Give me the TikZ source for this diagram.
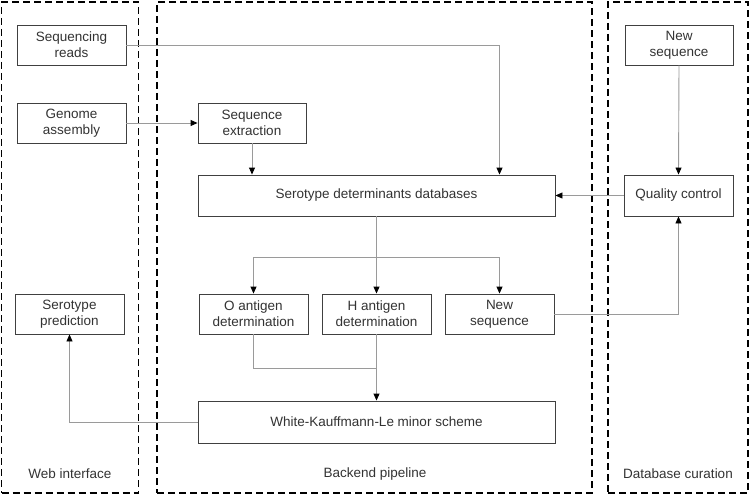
\documentclass[tikz,border=0pt]{standalone}
\usepackage{fontspec}
\setmainfont{Liberation Sans}
\usetikzlibrary{arrows.meta}
\definecolor{boxc}{HTML}{404040}
\definecolor{linec}{HTML}{9A9A9A}
\definecolor{txtc}{HTML}{333333}
\tikzset{
  box/.style={draw=boxc, line width=0.9pt, fill=white, inner sep=0pt, align=center,
    text=txtc, font=\fontsize{13.5}{16.3}\selectfont},
  conn/.style={draw=linec, line width=0.9pt, -{Triangle[length=7pt,width=6pt,color=black]}},
  plain/.style={draw=linec, line width=0.9pt},
  panel/.style={draw=black, line width=1.1pt, dash pattern=on 7pt off 4pt, inner sep=0pt},
  plabel/.style={text=txtc, font=\fontsize{13.5}{16.3}\selectfont}
}
\begin{document}
\begin{tikzpicture}[x=1pt,y=-1pt]
\useasboundingbox (0,0) rectangle (750,495);
% panels
\node[panel, minimum width=137pt, minimum height=491pt] (pweb) at (70,247.5) {};
\node[panel, minimum width=435pt, minimum height=491pt] (pback) at (374.5,247.5) {};
\node[panel, minimum width=140pt, minimum height=491pt] (pdb) at (678,247.5) {};
\node[plabel] (lweb) at (70,474) {Web interface};
\node[plabel] (lback) at (375,474) {Backend pipeline};
\node[plabel] (ldb) at (678,474) {Database curation};
% boxes
\node[box, minimum width=109pt, minimum height=40pt] (reads) at (71.5,45) {Sequencing\\reads};
\node[box, minimum width=109pt, minimum height=40pt] (genome) at (71.5,123) {Genome\\assembly};
\node[box, minimum width=108pt, minimum height=40pt] (extract) at (252,123) {Sequence\\extraction};
\node[box, minimum width=357pt, minimum height=41pt] (db) at (376.5,195.5) {Serotype determinants databases};
\node[box, minimum width=108pt, minimum height=40pt] (newtop) at (679,45) {New\\sequence};
\node[box, minimum width=109pt, minimum height=41pt] (qc) at (678.5,195.5) {Quality control};
\node[box, minimum width=109pt, minimum height=40pt] (pred) at (69.5,314) {Serotype\\prediction};
\node[box, minimum width=109pt, minimum height=40pt] (oant) at (253.5,314) {O antigen\\determination};
\node[box, minimum width=109pt, minimum height=40pt] (hant) at (376.5,314) {H antigen\\determination};
\node[box, minimum width=109pt, minimum height=40pt] (newmid) at (499.5,314) {New\\sequence};
\node[box, minimum width=357pt, minimum height=42pt] (wk) at (376.5,422) {White-Kauffmann-Le minor scheme};
% connectors
\coordinate (split) at (376.5,257);
\coordinate (join) at (376.5,368);
\draw[conn] (reads.east) -| (db.north -| newmid.north);
\draw[conn] (genome.east) -- (extract.west);
\draw[conn] (extract.south) -- (extract.south |- db.north);
\draw[conn] (newtop.south) -- (qc.north);
\draw[conn] (qc.west) -- (db.east);
\draw[plain] (db.south) -- (split);
\draw[conn] (split) -| (oant.north);
\draw[conn] (split) -| (newmid.north);
\draw[conn] (split) -- (hant.north);
\draw[conn] (newmid.east) -| (qc.south);
\draw[plain] (oant.south) |- (join);
\draw[conn] (hant.south) -- (wk.north);
\draw[conn] (wk.west) -| (pred.south);
\end{tikzpicture}
\end{document}
